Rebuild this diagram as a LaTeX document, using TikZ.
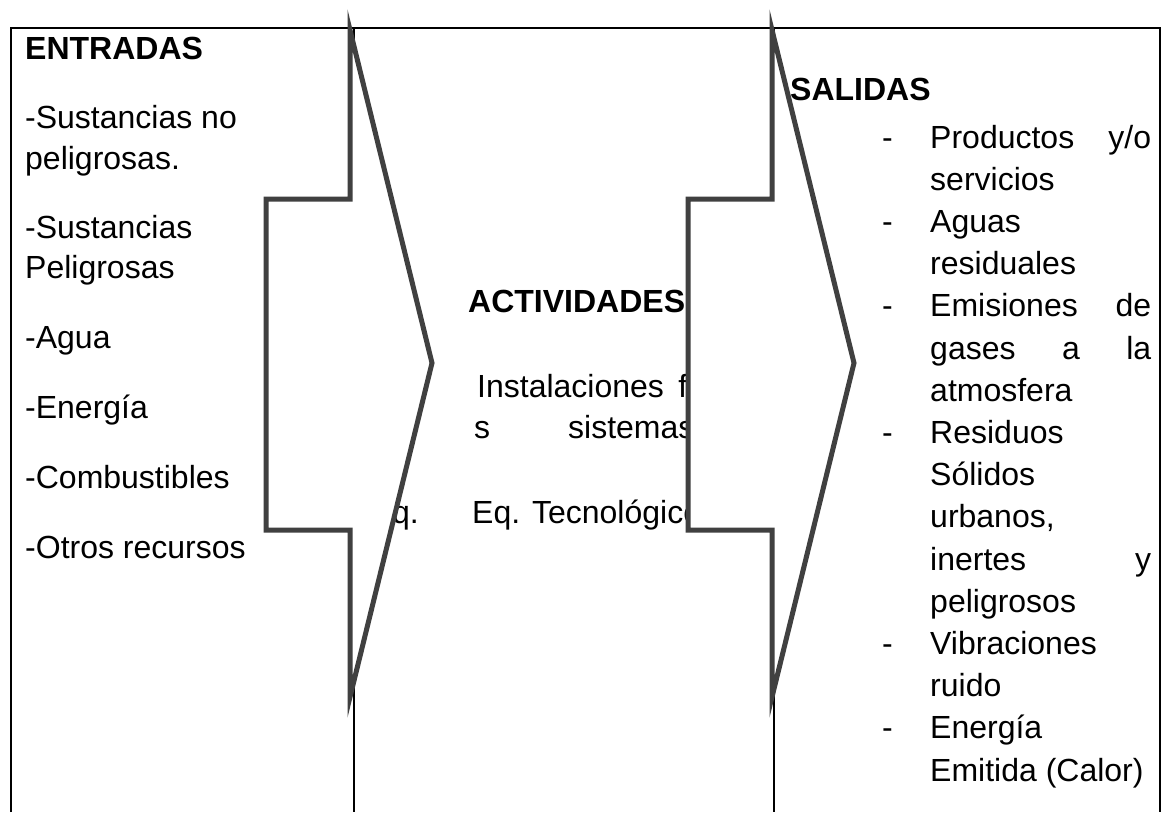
\documentclass[tikz,border=0pt]{standalone}
\usepackage{fontspec}
\setmainfont{Liberation Sans}
\definecolor{arrowgray}{RGB}{64,64,64}
\begin{document}
\begin{tikzpicture}[x=1pt,y=-1pt,
  tline/.style={line width=1.8pt,black},
  bigarrow/.style={line width=5pt,draw=arrowgray,fill=white,line join=miter,miter limit=10},
  txt/.style={anchor=base west,inner sep=0pt,font=\fontsize{32pt}{38pt}\selectfont},
  btxt/.style={anchor=base west,inner sep=0pt,font=\fontsize{32pt}{38pt}\selectfont\bfseries}]
\useasboundingbox (0,0) rectangle (1168,812);
\fill[white] (0,0) rectangle (1168,812);
% table
\coordinate (tl) at (11,28);
\coordinate (tr) at (1160,28);
\coordinate (bl) at (11,812);
\coordinate (br) at (1160,812);
\coordinate (d1t) at (354,28);
\coordinate (d1b) at (354,812);
\coordinate (d2t) at (774,28);
\coordinate (d2b) at (774,812);
\draw[tline] (bl) -- (tl) -- (tr) -- (br);
\draw[tline] (d1t) -- (d1b);
\draw[tline] (d2t) -- (d2b);
% left column
\node[btxt] (ent) at (25,59) {ENTRADAS};
\node[txt] (e1a) at (25,128) {-Sustancias no};
\node[txt] (e1b) at (25,169) {peligrosas.};
\node[txt] (e2a) at (25,238) {-Sustancias};
\node[txt] (e2b) at (25,278) {Peligrosas};
\node[txt] (e3) at (25,348) {-Agua};
\node[txt] (e4) at (25,418) {-Energía};
\node[txt] (e5) at (25,488) {-Combustibles};
\node[txt] (e6) at (25,558) {-Otros recursos};
% middle column
\node[btxt] (act) at (468,312) {ACTIVIDADES};
\node[txt] (m1) at (477,397) {\hbox to 210pt{Instalaciones\hfill f}};
\node[txt] (m2s) at (474,438) {s};
\node[txt] (m2) at (568,438) {sistemas};
\node[txt] (mq) at (392,523) {q.};
\node[txt] (m3) at (472,523) {Eq. Tecnológico};
% arrows
\draw[bigarrow] (266,199) -- (350,199) -- (350,30) -- (432,363) -- (350,697) -- (350,530) -- (266,530) -- cycle;
\draw[bigarrow] (688,199) -- (772,199) -- (772,30) -- (854,363) -- (772,697) -- (772,530) -- (688,530) -- cycle;
% right column
\node[btxt] (sal) at (790,100) {SALIDAS};
\foreach \n/\yy in {1/148,3/232.4,5/316.8,8/443.4,13/654.4,15/738.8}{
  \node[txt] (dash\n) at (882,\yy) {-};
}
\node[txt] (s1) at (930,148) {\hbox to 221pt{Productos\hfill y/o}};
\node[txt] (s2) at (930,190.2) {servicios};
\node[txt] (s3) at (930,232.4) {Aguas};
\node[txt] (s4) at (930,274.6) {residuales};
\node[txt] (s5) at (930,316.8) {\hbox to 221pt{Emisiones\hfill de}};
\node[txt] (s6) at (930,359) {\hbox to 221pt{gases\hfill a\hfill la}};
\node[txt] (s7) at (930,401.2) {atmosfera};
\node[txt] (s8) at (930,443.4) {Residuos};
\node[txt] (s9) at (930,485.6) {Sólidos};
\node[txt] (s10) at (930,527.8) {urbanos,};
\node[txt] (s11) at (930,570) {\hbox to 221pt{inertes\hfill y}};
\node[txt] (s12) at (930,612.2) {peligrosos};
\node[txt] (s13) at (930,654.4) {Vibraciones};
\node[txt] (s14) at (930,696.6) {ruido};
\node[txt] (s15) at (930,738.8) {Energía};
\node[txt] (s16) at (930,781) {Emitida (Calor)};
\end{tikzpicture}
\end{document}
